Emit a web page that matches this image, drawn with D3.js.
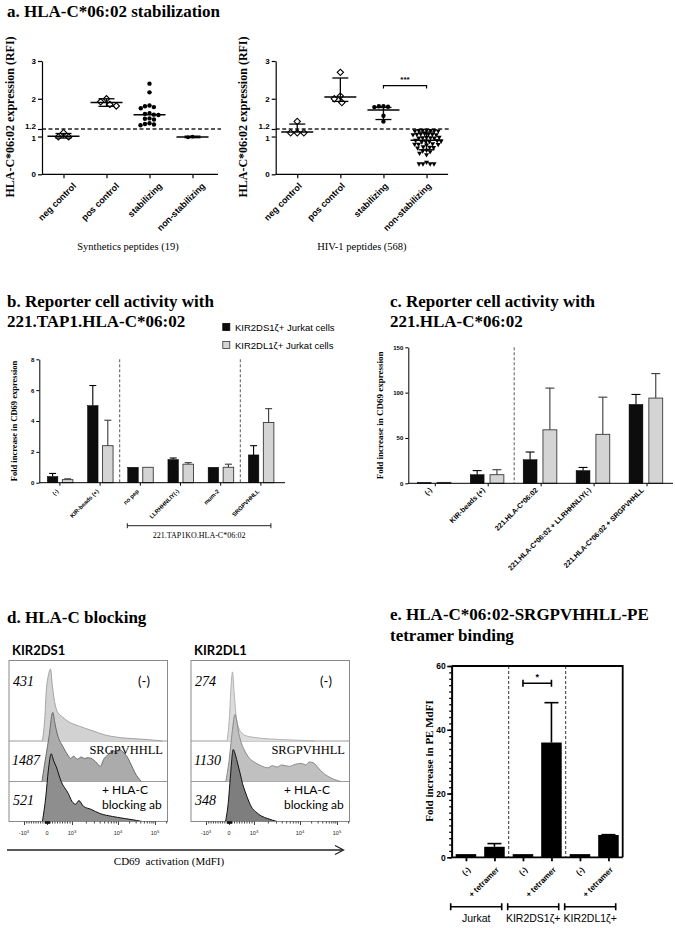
<!DOCTYPE html>
<html><head><meta charset="utf-8">
<script src="https://cdn.jsdelivr.net/npm/d3@7"></script>
<style>body{margin:0;background:#fff}svg{display:block}</style>
</head><body><svg id="c" width="675" height="928"></svg>
<script>
// ================= DATA =================
// Panel a
const aCats = ["neg control","pos control","stabilizing","non-stabilizing"];
const aYTicks = [0,1,1.2,2,3];
const aThreshold = 1.2;
const synNeg = [1.1, 0.99, 0.99];
const synPos = [2.0, 1.92, 1.85, 1.81];
const synStab = [2.4, 2.17, 1.82, 1.8, 1.78, 1.75, 1.62, 1.6, 1.58, 1.57, 1.48, 1.47, 1.45, 1.35, 1.33, 1.32, 1.3];
const synNon = [1.0, 0.98];
const synMean = [1.01, 1.9, 1.58, 0.99];
const synHi = [1.08, 2.0, 1.58, 1.01];
const synLo = [0.96, 1.8, 1.58, 0.97];
const hivNeg = [1.4, 1.1, 1.1, 1.1];
const hivPos = [2.7, 2.07, 2.0, 1.9];
const hivStab = [1.8, 1.8, 1.79, 1.78, 1.55, 1.4];
const hivNon = [1.17,1.17,1.16,1.16,1.16,1.15,1.15, 1.08,1.07,1.07,1.06,1.06,1.05,1.05,
  0.98,0.98,0.97,0.97,0.96,0.96, 0.9,0.89,0.88,0.88,0.87,0.86, 0.81,0.8,0.8,0.79,0.78,
  0.73,0.72,0.71,0.7, 0.64,0.62,0.6, 0.56,0.52, 0.28,0.28,0.28,0.28,0.32];
const hivMean = [1.12, 2.05, 1.7, 0.9];
const hivHi = [1.33, 2.55, 1.77, 1.12];
const hivLo = [1.12, 1.93, 1.45, 0.65];
const hivSig = "***";

// Panel b
const bCats = ["(-)", "KIR-beads (+)", "no pep", "LLRHHNLIY(-)", "mum-2", "SRGPVHHLL"];
const bDS1 = [0.4, 5.0, 1.0, 1.5, 1.0, 1.8];
const bDS1Err = [0.2, 1.3, 0, 0.1, 0, 0.6];
const bDL1 = [0.2, 2.4, 1.0, 1.2, 1.0, 3.9];
const bDL1Err = [0.05, 1.65, 0, 0.1, 0.2, 0.9];
const bYTicks = [0,2,4,6,8];
const bSeparators = [1.5, 4.5];
const bGroupLabel = "221.TAP1KO.HLA-C*06:02";
const legendLabels = ["KIR2DS1\u03b6+ Jurkat cells", "KIR2DL1\u03b6+ Jurkat cells"];

// Panel c
const cCats = ["(-)", "KIR-beads (+)", "221.HLA-C*06:02", "221.HLA-C*06:02 + LLRHHNLIY(-)", "221.HLA-C*06:02 + SRGPVHHLL"];
const cDS1 = [1, 9.5, 26, 14, 87];
const cDS1Err = [0, 4.5, 8.5, 3.5, 11];
const cDL1 = [1, 9.5, 59, 54, 94];
const cDL1Err = [0, 5.5, 46, 41, 27];
const cYTicks = [0,50,100,150];
const cSeparators = [1.5];

// Panel d (x in logicle decades: -1=-10^3, 0=0, 1=10^3, 2=10^4, 3=10^5; y in % of peak)
const dTickVals = [-1000, 0, 1000, 10000, 100000];
const dRows = ["(-)", "SRGPVHHLL", "+ HLA-C blocking ab"];
const dDS1MFI = ["431", "1487", "521"];
const dDL1MFI = ["274", "1130", "348"];
const hDS1Neg = [[-0.2,0],[-0.1,30],[-0.03,70],[0.06,92],[0.14,100],[0.22,75],[0.3,55],[0.41,41],[0.63,33],[0.85,27],[1.14,21],[1.41,15],[1.74,8],[2.2,4],[2.8,2],[3.2,0]];
const hDS1Srg = [[-0.22,0],[-0.05,35],[0.08,62],[0.23,96],[0.32,80],[0.41,66],[0.63,49],[0.85,36],[0.95,32],[1.03,35],[1.12,31],[1.2,34],[1.27,32],[1.35,33],[1.47,30],[1.55,25],[1.61,21],[1.7,32],[1.8,38],[1.88,43],[1.97,41],[2.06,44],[2.15,40],[2.24,35],[2.35,24],[2.46,12],[2.63,0]];
const hDS1Blk = [[-0.2,0],[-0.05,35],[0.05,70],[0.17,94],[0.27,84],[0.37,76],[0.56,56],[0.85,39],[1.0,28],[1.08,24],[1.15,29],[1.25,21],[1.41,17],[1.61,11],[1.88,7],[2.2,4],[2.5,1.5],[2.65,0]];
const hDL1Neg = [[-0.08,0],[0.02,35],[0.08,75],[0.14,96],[0.2,70],[0.29,33],[0.38,19],[0.47,12.5],[0.7,7],[0.91,5.5],[1.3,3],[2.0,1],[2.4,0]];
const hDL1Srg = [[-0.14,0],[0.0,28],[0.1,60],[0.24,93],[0.31,84],[0.39,67],[0.5,53],[0.61,44],[0.8,33],[1.03,26],[1.15,22],[1.3,19],[1.4,22],[1.5,20],[1.6,23],[1.77,21],[1.9,24],[2.05,25],[2.15,23],[2.25,27],[2.36,26],[2.49,19],[2.6,13],[2.76,7],[3.1,0]];
const hDL1Blk = [[-0.15,0],[-0.02,30],[0.05,60],[0.17,100],[0.26,92],[0.35,80],[0.45,66],[0.54,53],[0.65,41],[0.77,30],[0.9,20],[1.03,14],[1.15,8],[1.3,4],[1.5,0]];
const dAxisLabel = "CD69  activation (MdFI)";

// Panel e
const eCats = ["(-)", "+ tetramer", "(-)", "+ tetramer", "(-)", "+ tetramer"];
const eVals = [1, 3.3, 1, 36, 1, 7];
const eErr = [0, 1.0, 0, 12.5, 0, 0.1];
const eGroups = ["Jurkat", "KIR2DS1\u03b6+", "KIR2DL1\u03b6+"];
const eYTicks = [0,20,40,60];
const eSig = "*";

// ================= DRAWING =================
const svg = d3.select("#c");
svg.append("rect").attr("width",675).attr("height",928).attr("fill","#fff");
const SERIF = "'Liberation Serif','Times New Roman',serif";
const SANS = "'Liberation Sans',Arial,sans-serif";
const CAL = "Lato,'Open Sans',sans-serif";

function txt(g, x, y, s, o={}) {
  const t = g.append("text").attr("x",x).attr("y",y).text(s)
    .attr("font-family", o.font||SERIF).attr("font-size", o.size||10)
    .attr("font-weight", o.weight||"normal").attr("fill", o.fill||"#000");
  if (o.anchor) t.attr("text-anchor", o.anchor);
  if (o.style) t.attr("font-style", o.style);
  if (o.rotate!=null) t.attr("transform", `rotate(${o.rotate},${x},${y})`);
  return t;
}
function rotLabel(g, px, py, s, size, weight="bold", font=SANS) {
  g.append("text").attr("transform",`translate(${px},${py}) rotate(-45)`)
    .attr("text-anchor","end").attr("dy","0.35em").text(s)
    .attr("font-family",font).attr("font-size",size).attr("font-weight",weight).attr("fill","#000");
}
function styleAxis(sel, size, sw=1.2){
  sel.selectAll("path.domain").attr("stroke","#000").attr("stroke-width",sw);
  sel.selectAll(".tick line").attr("stroke","#000").attr("stroke-width",sw);
  sel.selectAll(".tick text").attr("font-family",SANS).attr("font-weight","bold").attr("font-size",size).attr("fill","#000");
}
function swarm(vals, ys, diam) {
  const pts = vals.map(v=>({v, y:ys(v), x:0}));
  const order = pts.slice().sort((a,b)=>b.v-a.v);
  const placed = [];
  order.forEach(p=>{
    const forb = [];
    placed.forEach(q=>{
      const dy = Math.abs(q.y-p.y);
      if (dy < diam) { const w = Math.sqrt(diam*diam-dy*dy); forb.push([q.x-w, q.x+w]); }
    });
    const cands = [0];
    forb.forEach(f=>cands.push(f[0], f[1]));
    cands.sort((a,b)=>Math.abs(a)-Math.abs(b) || a-b);
    for (const c of cands) {
      if (forb.every(f=> c <= f[0]+1e-6 || c >= f[1]-1e-6)) { p.x = c; break; }
    }
    placed.push(p);
  });
  return pts;
}

// Titles
txt(svg, 7, 17, "a. HLA-C*06:02 stabilization", {size:17, weight:"bold"});
txt(svg, 7, 307, "b. Reporter cell activity with", {size:17, weight:"bold"});
txt(svg, 7, 327, "221.TAP1.HLA-C*06:02", {size:17, weight:"bold"});
txt(svg, 390, 307, "c. Reporter cell activity with", {size:17, weight:"bold"});
txt(svg, 390, 327, "221.HLA-C*06:02", {size:17, weight:"bold"});
txt(svg, 7, 623, "d. HLA-C blocking", {size:17, weight:"bold"});
txt(svg, 390, 620, "e. HLA-C*06:02-SRGPVHHLL-PE", {size:17, weight:"bold"});
txt(svg, 390, 641, "tetramer binding", {size:17, weight:"bold"});

// ---------- Panel a ----------
function drawA(cfg){
  const g = svg.append("g");
  const x = d3.scalePoint().domain(aCats).range([cfg.x0, cfg.x0+4*cfg.step]).padding(0.5);
  const y = d3.scaleLinear().domain([0,3]).range([174.3,61]);
  const xEnd = cfg.x0+4*cfg.step+cfg.ext;
  g.append("line").attr("x1",cfg.x0).attr("x2",xEnd+3).attr("y1",y(aThreshold)).attr("y2",y(aThreshold))
    .attr("stroke","#222").attr("stroke-width",1.4).attr("stroke-dasharray","4,2.5");
  const ya = g.append("g").attr("transform",`translate(${cfg.x0},0)`)
    .call(d3.axisLeft(y).tickValues(aYTicks).tickFormat(d=>String(d)).tickSize(4).tickSizeOuter(0).tickPadding(2));
  styleAxis(ya, 8);
  // keep the two close labels (1.2 and 1) from colliding
  ya.selectAll(".tick text").attr("dy", d=> d===1.2 ? "-0.05em" : (d===1 ? "0.55em" : "0.32em"));
  const xa = g.append("g").attr("transform",`translate(0,${y(0)})`)
    .call(d3.axisBottom(x).tickSize(4).tickSizeOuter(0).tickFormat(""));
  xa.select(".domain").attr("d",`M${cfg.x0},0H${xEnd}`);
  styleAxis(xa, 9);
  aCats.forEach(c=> rotLabel(g, x(c)+cfg.labOff, y(0)+10, c, 9));
  txt(g, cfg.ylabX, 117, "HLA-C*06:02 expression (RFI)", {size:12, weight:"bold", anchor:"middle", rotate:-90});
  txt(g, cfg.x0+2*cfg.step, 250, cfg.footer, {size:10.5, anchor:"middle"});
  // points
  const sq = d3.symbol(d3.symbolSquare, 20)();
  const tri = d3.symbol(d3.symbolTriangle, 11)();
  cfg.groups.forEach((vals,i)=>{
    const cx = x(aCats[i]);
    const m = cfg.markers[i];
    const diam = m==="diamond"?6.6:(m==="tri"?3.9:4.6);
    swarm(vals, y, diam).forEach(p=>{
      if (m==="diamond") g.append("path").attr("d",sq).attr("transform",`translate(${cx+p.x},${p.y}) rotate(45)`)
        .attr("fill","#fff").attr("stroke","#000").attr("stroke-width",1.1);
      else if (m==="tri") g.append("path").attr("d",tri).attr("transform",`translate(${cx+p.x},${p.y}) rotate(180)`).attr("fill","#000");
      else g.append("circle").attr("cx",cx+p.x).attr("cy",p.y).attr("r",m==="small"?1.9:2.2).attr("fill","#000");
    });
    // mean & error
    g.append("line").attr("x1",cx-16).attr("x2",cx+16).attr("y1",y(cfg.mean[i])).attr("y2",y(cfg.mean[i])).attr("stroke","#000").attr("stroke-width",1.5);
    if (cfg.hi[i]>cfg.mean[i]+0.001) {
      g.append("line").attr("x1",cx).attr("x2",cx).attr("y1",y(cfg.mean[i])).attr("y2",y(cfg.hi[i])).attr("stroke","#000").attr("stroke-width",1.3);
      g.append("line").attr("x1",cx-8).attr("x2",cx+8).attr("y1",y(cfg.hi[i])).attr("y2",y(cfg.hi[i])).attr("stroke","#000").attr("stroke-width",1.3);
    }
    if (cfg.lo[i]<cfg.mean[i]-0.001) {
      g.append("line").attr("x1",cx).attr("x2",cx).attr("y1",y(cfg.mean[i])).attr("y2",y(cfg.lo[i])).attr("stroke","#000").attr("stroke-width",1.3);
      g.append("line").attr("x1",cx-8).attr("x2",cx+8).attr("y1",y(cfg.lo[i])).attr("y2",y(cfg.lo[i])).attr("stroke","#000").attr("stroke-width",1.3);
    }
  });
  if (cfg.sig) {
    const x1 = x(aCats[2]), x2 = x(aCats[3]), sy = y(2.35);
    g.append("path").attr("d",`M${x1},${sy+3}V${sy}H${x2}V${sy+3}`).attr("fill","none").attr("stroke","#000").attr("stroke-width",1.2);
    txt(g, (x1+x2)/2, sy-4, cfg.sig, {font:SANS, size:8, weight:"bold", anchor:"middle"});
  }
}
drawA({x0:42, step:43, ext:4, labOff:11, ylabX:14, footer:"Synthetics peptides (19)",
  groups:[synNeg, synPos, synStab, synNon], markers:["diamond","diamond","dot","small"],
  mean:synMean, hi:synHi, lo:synLo});
drawA({x0:275.7, step:43.1, ext:0, labOff:3, ylabX:247, footer:"HIV-1 peptides (568)",
  groups:[hivNeg, hivPos, hivStab, hivNon], markers:["diamond","diamond","dot","tri"],
  mean:hivMean, hi:hivHi, lo:hivLo, sig:hivSig});

// ---------- Panels b & c (grouped bars) ----------
function drawBars(cfg){
  const g = svg.append("g");
  const x = d3.scaleBand().domain(d3.range(cfg.cats.length)).range([cfg.x0, cfg.x1]);
  const st = x.step();
  const xs = d3.scaleBand().domain([0,1]).range([cfg.sub[0]*st, cfg.sub[1]*st]).paddingInner(0.3);
  const y = d3.scaleLinear().domain(cfg.ydom).range([cfg.y0, cfg.y1]);
  cfg.seps.forEach(s=>{
    const sx = cfg.x0 + (s+0.5)*st;
    g.append("line").attr("x1",sx).attr("x2",sx).attr("y1",y(cfg.ydom[1])).attr("y2",y(0))
      .attr("stroke","#444").attr("stroke-width",0.9).attr("stroke-dasharray","3,2");
  });
  const series = [[cfg.s1, cfg.e1, "#0d0d0d", "#000"], [cfg.s2, cfg.e2, "#d4d4d4", "#3a3a3a"]];
  series.forEach((s,k)=>{
    s[0].forEach((v,i)=>{
      const bx = x(i)+xs(k), bw = xs.bandwidth(), cxm = bx+bw/2;
      if (s[1][i]>0) {
        g.append("line").attr("x1",cxm).attr("x2",cxm).attr("y1",y(v)).attr("y2",y(v+s[1][i])).attr("stroke",s[3]).attr("stroke-width",1.1);
        g.append("line").attr("x1",cxm-cfg.cap/2).attr("x2",cxm+cfg.cap/2).attr("y1",y(v+s[1][i])).attr("y2",y(v+s[1][i])).attr("stroke",s[3]).attr("stroke-width",1.1);
      }
      g.append("rect").attr("x",bx).attr("y",y(v)).attr("width",bw).attr("height",y(0)-y(v))
        .attr("fill",s[2]).attr("stroke",s[3]).attr("stroke-width",k?0.9:0.5);
    });
  });
  const ya = g.append("g").attr("transform",`translate(${cfg.x0},0)`)
    .call(d3.axisLeft(y).tickValues(cfg.yticks).tickSize(3).tickSizeOuter(0).tickPadding(2));
  styleAxis(ya, cfg.tickSize, 1);
  const xc = d3.scalePoint().domain(d3.range(cfg.cats.length)).range([cfg.x0+st/2, cfg.x1-st/2]);
  const xa = g.append("g").attr("transform",`translate(0,${y(0)})`)
    .call(d3.axisBottom(xc).tickSize(3).tickSizeOuter(0).tickFormat(""));
  xa.select(".domain").attr("d",`M${cfg.x0},0H${cfg.xEnd}`);
  styleAxis(xa, 6, 1);
  cfg.cats.forEach((c,i)=> rotLabel(g, xc(i)+cfg.labDx, y(0)+cfg.labDy, c, cfg.labSize));
  txt(g, cfg.ylabX, (cfg.y0+cfg.y1)/2, "Fold increase in CD69 expression", {size:cfg.ylabSize, weight:"bold", anchor:"middle", rotate:-90});
  return {x, xc, y, st};
}
const bInfo = drawBars({cats:bCats, x0:39.3, x1:280.5, xEnd:285, sub:[0.2,0.835], ydom:[0,8], y0:482.7, y1:359.3,
  s1:bDS1, e1:bDS1Err, s2:bDL1, e2:bDL1Err, seps:bSeparators, yticks:bYTicks, cap:7, tickSize:6,
  labDx:-2, labDy:7.5, labSize:5.8, ylabX:16.5, ylabSize:8.5});
// b bracket
{
  const g = svg.append("g");
  const xl = bInfo.xc(2)-12.5, xr = bInfo.xc(5)+10.5, by = 525.7;
  g.append("path").attr("d",`M${xl},${by-2.5}V${by+2.5}M${xl},${by}H${xr}M${xr},${by-2.5}V${by+2.5}`)
    .attr("stroke","#222").attr("stroke-width",1).attr("fill","none");
  txt(g, (xl+xr)/2, 537.5, bGroupLabel, {size:8, anchor:"middle"});
  // legend
  const lg = svg.append("g");
  [["#0d0d0d","#000"],["#d4d4d4","#333"]].forEach((c,i)=>{
    lg.append("rect").attr("x",222.8).attr("y",323.5+i*18).attr("width",7).attr("height",7).attr("fill",c[0]).attr("stroke",c[1]).attr("stroke-width",0.8);
    txt(lg, 235, 330.5+i*18, legendLabels[i], {font:SANS, size:9.5});
  });
}
drawBars({cats:cCats, x0:408.3, x1:673, xEnd:673, sub:[0.17,0.805], ydom:[0,150], y0:483.3, y1:347.3,
  s1:cDS1, e1:cDS1Err, s2:cDL1, e2:cDL1Err, seps:cSeparators, yticks:cYTicks, cap:9, tickSize:6,
  labDx:-4, labDy:5.5, labSize:7.2, ylabX:383.5, ylabSize:9});

// ---------- Panel d (histograms) ----------
function toT(v){ if (Math.abs(v)<=1000) return v/1000; return Math.sign(v)*(Math.log10(Math.abs(v))-2); }
function drawHist(cfg){
  const g = svg.append("g");
  const bx = cfg.x, bw = 158.5, top = 660.5, bot = 821.5;
  const xs = d3.scaleLinear().domain([-1,0,1,2,3]).range([bx+15, bx+38, bx+63, bx+109, bx+146]);
  const baselines = [741, 781.5, 821.5];
  const clipId = "clip"+cfg.id;
  g.append("clipPath").attr("id",clipId).append("rect").attr("x",bx).attr("y",top).attr("width",bw).attr("height",bot-top);
  const inner = g.append("g").attr("clip-path",`url(#${clipId})`);
  baselines.slice(0,2).forEach(b=> inner.append("line").attr("x1",bx).attr("x2",bx+bw).attr("y1",b).attr("y2",b).attr("stroke","#9a9a9a").attr("stroke-width",1));
  cfg.hists.forEach((h,i)=>{
    const ys = d3.scaleLinear().domain([0,100]).range([baselines[i], baselines[i]-72]);
    const area = d3.area().x(d=>xs(d[0])).y0(baselines[i]).y1(d=>ys(d[1])).curve(d3.curveMonotoneX);
    const line = d3.line().x(d=>xs(d[0])).y(d=>ys(d[1])).curve(d3.curveMonotoneX);
    inner.append("path").attr("d",area(h)).attr("fill",cfg.fills[i]);
    inner.append("path").attr("d",line(h)).attr("fill","none").attr("stroke",cfg.strokes[i]).attr("stroke-width",1);
  });
  g.append("rect").attr("x",bx).attr("y",top).attr("width",bw).attr("height",bot-top).attr("fill","none").attr("stroke","#8a8a8a").attr("stroke-width",1);
  // axis ticks
  const minor = [].concat(d3.range(-900,-99,100), d3.range(-90,0,10), d3.range(10,100,10), d3.range(100,1000,100),
    d3.range(2000,10000,1000), d3.range(20000,100000,10000), [200000]);
  const ax = g.append("g").attr("transform",`translate(0,${bot})`);
  ax.call(d3.axisBottom(d3.scaleLinear().domain(xs.domain()).range(xs.range())).tickValues(minor.map(toT)).tickSize(2).tickFormat("").tickSizeOuter(0));
  ax.select(".domain").remove();
  const ax2 = g.append("g").attr("transform",`translate(0,${bot})`);
  ax2.call(d3.axisBottom(xs).tickValues(dTickVals.map(toT)).tickSize(3.5).tickFormat("").tickSizeOuter(0));
  ax2.select(".domain").remove();
  [ax, ax2].forEach(a=>a.selectAll(".tick line").attr("stroke","#111").attr("stroke-width",0.8));
  dTickVals.forEach(v=>{
    const t = g.append("text").attr("x",xs(toT(v))).attr("y",835).attr("text-anchor","middle")
      .attr("font-family",SANS).attr("font-size",5.5).attr("fill","#222");
    if (v===0) t.text("0");
    else { t.text(v<0?"-10":"10"); t.append("tspan").attr("dy",-2.5).attr("font-size",4.2).text(String(Math.round(Math.log10(Math.abs(v))))); }
  });
  // labels
  txt(g, bx+3, 655, cfg.name, {font:CAL, size:13, weight:"bold"});
  txt(g, bx+cfg.numDx, 685.5, cfg.mfi[0], {size:14, style:"italic"});
  txt(g, bx+cfg.numDx-1, 765, cfg.mfi[1], {size:14, style:"italic"});
  txt(g, bx+cfg.numDx, 804.5, cfg.mfi[2], {size:14, style:"italic"});
  txt(g, bx+135, 686, dRows[0], {font:CAL, size:13, anchor:"middle"});
  txt(g, bx+154, 754, dRows[1], {size:12.5, anchor:"end"});
  txt(g, bx+93, 794, "+ HLA-C", {font:CAL, size:12});
  txt(g, bx+93, 809, "blocking ab", {font:CAL, size:12});
}
drawHist({id:"L", x:9, name:"KIR2DS1", mfi:dDS1MFI, numDx:4,
  hists:[hDS1Neg, hDS1Srg, hDS1Blk], fills:["#d2d2d2","#ababab","#8e8e8e"], strokes:["#a4a4a4","#6a6a6a","#111"]});
drawHist({id:"R", x:191, name:"KIR2DL1", mfi:dDL1MFI, numDx:4,
  hists:[hDL1Neg, hDL1Srg, hDL1Blk], fills:["#dcdcdc","#c0c0c0","#7e7e7e"], strokes:["#b2b2b2","#8a8a8a","#111"]});
// arrow + axis label
svg.append("line").attr("x1",7).attr("x2",343).attr("y1",850).attr("y2",850).attr("stroke","#222").attr("stroke-width",1.3);
svg.append("path").attr("d","M335,845.5L343.5,850L335,854.5").attr("fill","none").attr("stroke","#222").attr("stroke-width",1.3);
txt(svg, 169, 865, dAxisLabel, {size:11, anchor:"middle"}).attr("xml:space","preserve").style("white-space","pre");

// ---------- Panel e ----------
{
  const g = svg.append("g");
  const x = d3.scaleBand().domain(d3.range(eCats.length)).range([451.7,622.7]).paddingInner(0.28).paddingOuter(0.14);
  const y = d3.scaleLinear().domain([0,60]).range([857.3,666]);
  const bw = x.bandwidth();
  [2,4].forEach(i=>{
    const sx = (x(i-1)+bw + x(i))/2;
    g.append("line").attr("x1",sx).attr("x2",sx).attr("y1",y(60)).attr("y2",y(0)).attr("stroke","#333").attr("stroke-width",1).attr("stroke-dasharray","3,2");
  });
  eVals.forEach((v,i)=>{
    const cx = x(i)+bw/2;
    if (eErr[i]>0) {
      g.append("line").attr("x1",cx).attr("x2",cx).attr("y1",y(v)).attr("y2",y(v+eErr[i])).attr("stroke","#000").attr("stroke-width",1.6);
      g.append("line").attr("x1",cx-7).attr("x2",cx+7).attr("y1",y(v+eErr[i])).attr("y2",y(v+eErr[i])).attr("stroke","#000").attr("stroke-width",1.6);
    }
    g.append("rect").attr("x",x(i)).attr("y",y(v)).attr("width",bw).attr("height",y(0)-y(v)).attr("fill","#000");
  });
  // frame
  g.append("path").attr("d",`M451.7,${y(60)}H622.7V${y(0)}`).attr("fill","none").attr("stroke","#000").attr("stroke-width",1.8);
  const ya = g.append("g").attr("transform","translate(451.7,0)")
    .call(d3.axisLeft(y).tickValues(d3.range(0,61,2)).tickSize(2.5).tickFormat("").tickSizeOuter(0));
  styleAxis(ya, 8.5, 1.3);
  ya.select(".domain").attr("stroke-width",1.8);
  const ya2 = g.append("g").attr("transform","translate(451.7,0)")
    .call(d3.axisLeft(y).tickValues(eYTicks).tickSize(4.5).tickSizeOuter(0).tickPadding(1.5));
  styleAxis(ya2, 8.5, 1.6);
  const xc = d3.scalePoint().domain(d3.range(eCats.length)).range([x(0)+bw/2, x(5)+bw/2]);
  const xa = g.append("g").attr("transform",`translate(0,${y(0)})`)
    .call(d3.axisBottom(xc).tickSize(4).tickFormat("").tickSizeOuter(0));
  xa.select(".domain").attr("d","M451.7,0H622.7");
  styleAxis(xa, 8, 1.8);
  eCats.forEach((c,i)=> rotLabel(g, xc(i)+3, y(0)+11, c, 8));
  txt(g, 433, 761, "Fold increase in PE MdFI", {size:11, weight:"bold", anchor:"middle", rotate:-90});
  // significance
  const s1 = xc(2), s2 = xc(3), sy = 683.3;
  g.append("path").attr("d",`M${s1},${sy-3.5}V${sy+3.5}M${s1},${sy}H${s2}M${s2},${sy-3.5}V${sy+3.5}`).attr("stroke","#000").attr("stroke-width",1.6).attr("fill","none");
  txt(g, (s1+s2)/2, 680, eSig, {font:SANS, size:9, weight:"bold", anchor:"middle"});
  // group brackets
  eGroups.forEach((name,k)=>{
    const xl = x(2*k)-5, xr = x(2*k+1)+bw-3, by = 906.7;
    g.append("path").attr("d",`M${xl},${by-3.5}V${by+3.5}M${xl},${by}H${xr}M${xr},${by-3.5}V${by+3.5}`).attr("stroke","#000").attr("stroke-width",1.6).attr("fill","none");
    txt(g, (xl+xr)/2, 922, name, {font:SANS, size:10.5, anchor:"middle"});
  });
}
</script></body></html>
